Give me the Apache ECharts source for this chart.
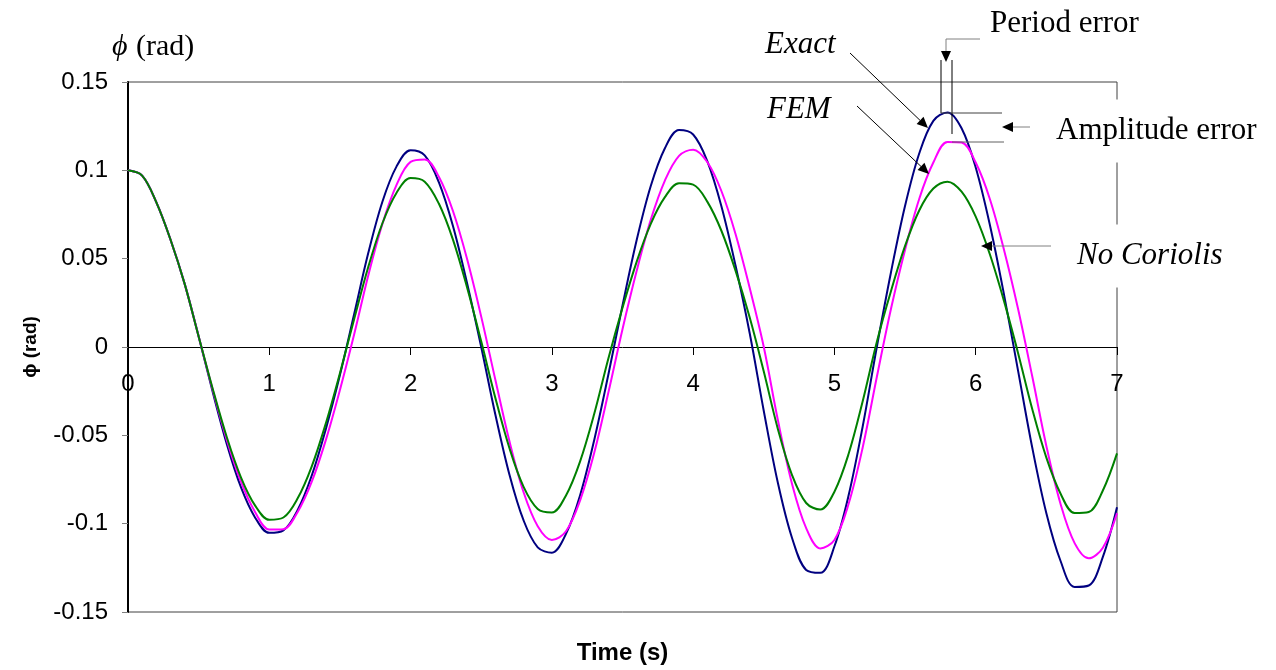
<!DOCTYPE html>
<html><head><meta charset="utf-8">
<script src="https://cdn.jsdelivr.net/npm/echarts@6/dist/echarts.min.js"></script>
<style>html,body{margin:0;padding:0;background:#fff}#c{width:1276px;height:670px}</style>
</head><body><div id="c"></div>
<script>
// ---- data ----
const time = [0,0.1,0.2,0.3,0.4,0.5,0.6,0.7,0.8,0.9,1.0,1.1,1.2,1.3,1.4,1.5,1.6,1.7,1.8,1.9,2.0,2.1,2.2,2.3,2.4,2.5,2.6,2.7,2.8,2.9,3.0,3.1,3.2,3.3,3.4,3.5,3.6,3.7,3.8,3.9,4.0,4.1,4.2,4.3,4.4,4.5,4.6,4.7,4.8,4.9,5.0,5.1,5.2,5.3,5.4,5.5,5.6,5.7,5.8,5.9,6.0,6.1,6.2,6.3,6.4,6.5,6.6,6.7,6.8,6.9,7.0];
const exact = [0.1,0.097,0.082,0.061,0.036,0.006,
 -0.0256,-0.0551,-0.0795,-0.0966,-0.1052,-0.1038,-0.0924,-0.0729,-0.0465,-0.0159,
 0.0184,0.0530,0.0821,0.1021,0.1114,0.1085,0.0933,0.0685,0.0361,0.0,
 -0.0382,-0.0723,-0.0982,-0.1134,-0.1164,-0.1058,-0.0839,-0.0526,-0.0156,
 0.0235,0.0604,0.0911,0.1125,0.1228,0.1203,0.1052,0.0797,0.0461,0.0079,
 -0.0362,-0.0770,-0.1081,-0.1262,-0.1278,-0.1128,-0.0841,-0.0450,0.0,
 0.0422,0.0799,0.1095,0.1280,0.1328,0.1238,0.1016,0.0692,0.0298,
 -0.0135,-0.0569,-0.0941,-0.1210,-0.1358,-0.1350,-0.1188,-0.0907];
const fem = [0.1,0.097,0.082,0.061,0.036,0.006,
 -0.0243,-0.0527,-0.0764,-0.0935,-0.1033,-0.1031,-0.0935,-0.0764,-0.0527,-0.0243,
 0.0069,0.0403,0.0695,0.0916,0.1048,0.1062,0.0964,0.0770,0.0498,0.0172,
 -0.0185,-0.0534,-0.0822,-0.1014,-0.1092,-0.1043,-0.0868,-0.0599,-0.0258,
 0.0101,0.0430,0.0720,0.0942,0.1082,0.1117,0.1047,0.0883,0.0640,0.0335,0.0,
 -0.0415,-0.0775,-0.1025,-0.1140,-0.1092,-0.0889,-0.0569,-0.0170,
 0.0215,0.0551,0.0838,0.1044,0.1161,0.1158,0.1044,0.0838,0.0551,0.0215,
 -0.0166,-0.0560,-0.0887,-0.1110,-0.1196,-0.1136,-0.0941];
const noCoriolis = [0.1,0.097,0.082,0.061,0.036,0.006,
 -0.0238,-0.0512,-0.0739,-0.0898,-0.0978,-0.0965,-0.0858,-0.0677,-0.0433,-0.0148,
 0.0156,0.0451,0.0699,0.0872,0.0956,0.0936,0.0812,0.0608,0.0337,0.0032,
 -0.0288,-0.0573,-0.0792,-0.0917,-0.0937,-0.0840,-0.0647,-0.0378,-0.0065,
 0.0222,0.0482,0.0697,0.0848,0.0927,0.0919,0.0823,0.0658,0.0432,0.0168,
 -0.0139,-0.0465,-0.0725,-0.0883,-0.0920,-0.0819,-0.0606,-0.0307,
 0.0029,0.0316,0.0572,0.0773,0.0897,0.0936,0.0879,0.0738,0.0525,0.0261,
 -0.0035,-0.0351,-0.0626,-0.0829,-0.0940,-0.0934,-0.0812,-0.0602];
const seriesNames = ['Exact','FEM','No Coriolis'];
const xTickLabels = ['0','1','2','3','4','5','6','7'];
const yTickLabels = ['-0.15','-0.1','-0.05','0','0.05','0.1','0.15'];
const xMin = 0, xMax = 7, xStep = 1;
const yMin = -0.15, yMax = 0.15, yStep = 0.05;

// ---- chart ----
const chart = echarts.init(document.getElementById('c'), null, {renderer:'canvas'});
const SANS = '"Liberation Sans", Arial, sans-serif';
const SERIF = '"Liberation Serif", "Times New Roman", serif';
const pair = arr => time.map((t,i)=>[t, arr[i]]);

function arrow(x1,y1,x2,y2,lineColor,headColor){
  const dx=x2-x1, dy=y2-y1, L=Math.sqrt(dx*dx+dy*dy), ux=dx/L, uy=dy/L;
  const hl=11, hw=5;
  const bx=x2-ux*hl, by=y2-uy*hl;
  return [
    {type:'line', z:100, shape:{x1:x1,y1:y1,x2:bx,y2:by}, style:{stroke:lineColor,lineWidth:1}},
    {type:'polygon', z:100, shape:{points:[[x2,y2],[bx-uy*hw,by+ux*hw],[bx+uy*hw,by-ux*hw]]}, style:{fill:headColor}}
  ];
}
function txt(s,x,y,font,extra){
  return {type:'text', z:100, style:Object.assign({text:s,x:x,y:y,font:font,fill:'#000',verticalAlign:'middle',align:'left'}, extra||{})};
}
const graphics = [].concat(
  [txt('ϕ',112,47,'italic 30px '+SERIF), txt('(rad)',136,47,'30px '+SERIF)],
  [txt('Period error',990,24,'31px '+SERIF)],
  [{type:'polyline', z:100, shape:{points:[[980,39],[946,39],[946,52]]}, style:{stroke:'#808080',lineWidth:1,fill:null}},
   {type:'polygon', z:100, shape:{points:[[946,62],[941,51],[951,51]]}, style:{fill:'#000'}}],
  [{type:'line', z:100, shape:{x1:941,y1:60,x2:941,y2:113}, style:{stroke:'#000',lineWidth:1}},
   {type:'line', z:100, shape:{x1:952,y1:60,x2:952,y2:134}, style:{stroke:'#000',lineWidth:1}},
   {type:'line', z:100, shape:{x1:941,y1:113,x2:1002,y2:113}, style:{stroke:'#404040',lineWidth:1}},
   {type:'line', z:100, shape:{x1:952,y1:142,x2:1004,y2:142}, style:{stroke:'#606060',lineWidth:1}}],
  arrow(1030,127,1002,127,'#808080','#000'),
  [txt('Amplitude error',1052,131,'31px '+SERIF,{backgroundColor:'#fff',padding:[16,4,16,4]})],
  [txt('Exact',765,45,'italic 31px '+SERIF)],
  arrow(850,53,928,128,'#000','#000'),
  [txt('FEM',767,110,'italic 31px '+SERIF)],
  arrow(857,106,929,174,'#000','#000'),
  [txt('No Coriolis',1073,256,'italic 31px '+SERIF,{backgroundColor:'#fff',padding:[16,4,16,4]})],
  arrow(1051,246,981,246,'#808080','#000')
);

chart.setOption({
  animation:false,
  backgroundColor:'#fff',
  grid:{left:128,right:159,top:82,bottom:58,containLabel:false,outerBoundsMode:'none',
    show:true,borderColor:'#404040',borderWidth:1,backgroundColor:'transparent'},
  xAxis:{type:'value',min:xMin,max:xMax,interval:xStep,position:'bottom',offset:-265,
    name:'Time (s)',nameLocation:'middle',nameGap:294,
    nameTextStyle:{fontFamily:SANS,fontWeight:'bold',fontSize:24,color:'#000'},
    axisLine:{show:true,onZero:false,lineStyle:{color:'#000',width:1}},
    axisTick:{show:true,inside:false,length:8,lineStyle:{color:'#000'}},
    axisLabel:{margin:25,fontFamily:SANS,fontSize:24,color:'#000',
      formatter:v=>xTickLabels[Math.round((v-xMin)/xStep)]},
    splitLine:{show:false}},
  yAxis:{type:'value',min:yMin,max:yMax,interval:yStep,
    name:'ϕ (rad)',nameLocation:'middle',nameGap:88,nameRotate:90,
    nameTextStyle:{fontFamily:SANS,fontWeight:'bold',fontSize:19,color:'#000'},
    axisLine:{show:true,onZero:false,lineStyle:{color:'#000',width:2}},
    axisTick:{show:true,inside:false,length:6,lineStyle:{color:'#808080'}},
    axisLabel:{margin:20,fontFamily:SANS,fontSize:24,color:'#000',
      formatter:v=>yTickLabels[Math.round((v-yMin)/yStep)]},
    splitLine:{show:false}},
  series:[
    {name:seriesNames[0],type:'line',data:pair(exact),smooth:0.35,showSymbol:false,lineStyle:{color:'#000080',width:2},z:2},
    {name:seriesNames[1],type:'line',data:pair(fem),smooth:0.35,showSymbol:false,lineStyle:{color:'#FF00FF',width:2},z:3},
    {name:seriesNames[2],type:'line',data:pair(noCoriolis),smooth:0.35,showSymbol:false,lineStyle:{color:'#008000',width:2},z:4}
  ],
  graphic:graphics
});
</script>
</body></html>
